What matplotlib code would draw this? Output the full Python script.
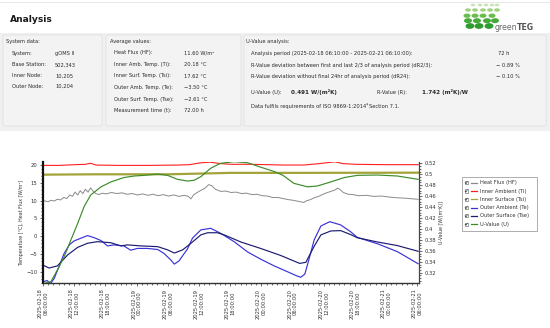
import numpy as np
import pandas as pd
import matplotlib
matplotlib.use("Agg")
import matplotlib.pyplot as plt
import matplotlib.dates as mdates
from matplotlib.patches import Rectangle, FancyBboxPatch, Ellipse
from matplotlib.lines import Line2D
from matplotlib.ticker import MultipleLocator, FuncFormatter

W, H = 550, 328
T0 = pd.Timestamp("2025-02-18 06:10:00")
plt.rcParams["font.family"] = "DejaVu Sans"

# ---- series (hours after 2025-02-18 06:10) --------------------------------
hf_h = [0.0, 0.8, 1.4, 2.0, 2.6, 3.2, 3.8, 4.4, 5.0, 5.5, 6.0, 6.5, 7.0, 7.5, 8.0,
        8.5, 9.0, 9.5, 10.0, 10.6, 11.2, 12.0, 13.0, 14.0, 15.0, 16.0, 17.0, 18.0,
        19.0, 20.0, 21.0, 22.0, 23.0, 24.0, 25.0, 26.0, 27.0, 27.8, 28.3, 28.8,
        29.5, 30.2, 31.0, 31.7, 32.3, 33.0, 34.0, 35.0, 36.0, 37.0, 38.0, 39.0,
        40.0, 41.0, 42.0, 43.0, 44.0, 45.0, 46.0, 47.0, 48.0, 49.0, 50.0, 50.6,
        51.3, 52.0, 53.0, 54.0, 55.0, 56.0, 56.5, 57.0, 57.6, 58.5, 59.5, 60.5,
        62.0, 63.5, 65.0, 66.5, 68.0, 69.5, 71.0, 72.0]
hf_v = [10.0, 9.7, 10.1, 9.9, 10.4, 10.2, 10.9, 10.6, 11.6, 11.2, 12.4, 11.6, 12.8,
        12.0, 13.2, 12.4, 13.6, 12.6, 12.0, 11.7, 12.1, 11.9, 12.3, 12.0, 12.2,
        11.8, 12.0, 11.6, 11.9, 11.5, 11.8, 11.4, 11.7, 11.3, 11.6, 11.2, 11.5,
        11.2, 10.5, 11.6, 12.3, 12.9, 13.5, 14.5, 14.2, 13.2, 12.6, 12.7, 12.3,
        12.4, 12.0, 12.1, 11.7, 11.8, 11.4, 11.3, 10.9, 10.9, 10.6, 10.3, 10.1,
        9.8, 9.5, 10.0, 10.3, 10.8, 11.3, 12.0, 12.5, 13.0, 13.5, 13.1, 12.3,
        11.8, 11.7, 11.4, 11.5, 11.2, 11.3, 11.0, 10.8, 10.7, 10.5, 10.4]

ti_h = [0.0, 3, 6, 8, 9, 10, 14, 20, 26, 28, 30, 32, 34, 36, 40, 46, 50, 53, 56,
        57.5, 60, 66, 72]
ti_v = [19.9, 19.9, 20.1, 20.2, 20.5, 20.0, 19.9, 19.9, 20.0, 20.1, 20.6, 20.8,
        20.4, 20.2, 20.2, 20.0, 20.0, 20.4, 20.9, 20.4, 20.2, 20.1, 20.1]

tsi_h = [0.0, 10, 24, 30, 36, 50, 72]
tsi_v = [17.3, 17.4, 17.4, 17.6, 17.8, 17.8, 17.85]

te_h = [0.0, 0.6, 1.0, 1.35, 2.0, 2.9, 3.9, 4.9, 5.8, 7.1, 8.4, 9.7, 11.0, 12.25,
        13.5, 15.4, 16.7, 18.0, 19.9, 21.9, 23.1, 24.4, 25.1, 26.0, 27.6, 28.6,
        30.2, 32.1, 34.0, 36.6, 39.2, 41.7, 44.3, 46.5, 48.5, 49.4, 50.2, 50.9,
        52.0, 53.3, 55.0, 57.1, 59.0, 60.3, 64.2, 68.0, 72.0]
te_v = [-12.7, -12.4, -12.9, -13.1, -11.8, -8.5, -4.8, -2.4, -1.3, -0.55, 0.2,
        -0.4, -1.2, -2.7, -2.4, -2.7, -3.9, -3.4, -3.4, -3.7, -4.8, -6.6, -7.8,
        -6.9, -3.6, -0.5, 1.8, 2.25, 0.85, -1.5, -4.4, -6.4, -8.3, -9.7, -11.0,
        -11.5, -10.6, -7.0, -1.0, 2.9, 4.1, 3.2, 1.3, -0.3, -2.1, -4.3, -7.7]

tse_h = [0.0, 1.0, 2.6, 4.6, 6.5, 8.4, 10.3, 12.9, 14.8, 16.1, 18.7, 21.9, 23.8,
         25.1, 26.7, 28.3, 30.2, 31.5, 33.4, 34.7, 37.9, 41.7, 45.6, 49.2, 50.4,
         52.0, 53.3, 55.2, 57.1, 59.0, 60.3, 64.2, 68.0, 72.0]
tse_v = [-8.2, -8.9, -8.3, -5.2, -3.1, -1.95, -1.5, -1.8, -2.7, -2.4, -2.7, -2.9,
         -3.8, -4.7, -3.8, -1.95, 0.4, 1.0, 1.0, 0.4, -1.6, -3.4, -5.4, -7.6,
         -7.3, -2.8, 0.4, 1.5, 1.6, 0.5, -0.4, -1.6, -2.6, -4.2]

u_h = [0.0, 1.35, 2.6, 3.9, 5.2, 6.5, 7.75, 9.0, 11.0, 12.9, 15.4, 17.4, 19.3,
       21.9, 23.8, 25.7, 27.6, 28.9, 30.2, 32.1, 34.0, 36.6, 39.2, 41.7, 44.3,
       46.0, 48.1, 50.7, 52.6, 55.2, 57.8, 60.3, 64.2, 68.0, 72.0]
u_v = [0.3006, 0.3036, 0.325, 0.349, 0.380, 0.410, 0.441, 0.462, 0.477, 0.486,
       0.494, 0.4968, 0.498, 0.5004, 0.498, 0.4907, 0.4876, 0.489, 0.4955, 0.511,
       0.520, 0.523, 0.521, 0.513, 0.505, 0.498, 0.4834, 0.477, 0.4785, 0.486,
       0.494, 0.498, 0.4986, 0.4968, 0.4907]

SERIES = [("Heat Flux (HF)", "#8a8a8a"), ("Inner Ambient (Ti)", "#ff1f1f"),
          ("Inner Surface (Tsi)", "#a3a33a"), ("Outer Ambient (Te)", "#3a32d8"),
          ("Outer Surface (Tse)", "#1c1c72"), ("U-Value (U)", "#3d8c2a")]
COL = dict(SERIES)

def ts(h):
    return T0 + pd.to_timedelta(np.asarray(h, float), unit="h")

def fx(x): return x / W
def fy(y): return 1 - y / H

fig = plt.figure(figsize=(5.5, 3.28), dpi=100)
fig.patch.set_facecolor("white")

# ---- header ---------------------------------------------------------------
fig.add_artist(Line2D([fx(0), fx(550)], [fy(2), fy(2)], color="#e4e4e4", lw=0.6))
fig.text(fx(10), fy(20), "Analysis", fontsize=6.6, fontweight="bold", color="#1a1a1a",
         va="center", ha="left")
# logo: perspective grid of green dots (decoration)
logo = [(5.0, [473, 480, 486, 492, 497], 4.6, 2.6, "#c6e4b2"),
        (10.0, [468, 475, 483, 490, 497], 5.8, 3.4, "#9ed27f"),
        (15.7, [467, 475, 483, 492], 7.0, 4.3, "#68bd4c"),
        (20.7, [468, 477, 487, 495], 8.0, 5.0, "#44aa38"),
        (26.0, [470, 479, 489], 8.8, 5.8, "#2f9c30")]
for y, xs, w, h, c in logo:
    for x in xs:
        fig.add_artist(Ellipse((fx(x), fy(y)), w / W, h / H, angle=-10,
                               transform=fig.transFigure, color=c, lw=0))
fig.text(fx(495), fy(27.5), "green", fontsize=5.6, color="#6a6a6a", va="center")
fig.text(fx(516.5), fy(27.5), "TEG", fontsize=5.6, color="#555555", va="center",
         fontweight="bold")

# ---- summary panel --------------------------------------------------------
fig.add_artist(Rectangle((fx(0), fy(131)), 1, (131 - 33) / H, transform=fig.transFigure,
                         facecolor="#f0f0f0", edgecolor="none"))
for x0, x1 in [(3, 102), (106, 241), (244, 546)]:
    fig.add_artist(FancyBboxPatch((fx(x0), fy(126)), (x1 - x0) / W, (126 - 35) / H,
                                  boxstyle="round,pad=0,rounding_size=0.004",
                                  transform=fig.transFigure, facecolor="#f3f3f3",
                                  edgecolor="#e0e0e0", lw=0.6))
FS = 3.7
TXT = "#2a2a2a"

def t(x, y, s, **kw):
    return fig.text(fx(x), fy(y), s, fontsize=kw.pop("fs", FS), color=TXT,
                    va="center", ha=kw.pop("ha", "left"), **kw)

t(6, 41, "System data:")
sys_lab = ["System:", "Base Station:", "Inner Node:", "Outer Node:"]
sys_val = ["gOMS II", "502,343", "10,205", "10,204"]
for i, (a, b) in enumerate(zip(sys_lab, sys_val)):
    y = 54 + i * 10.9
    t(12, y, a)
    t(55, y, b)

t(110, 41, "Average values:")
avg_lab = ["Heat Flux (HF):", "Inner Amb. Temp. (Ti):", "Inner Surf. Temp. (Tsi):",
           "Outer Amb. Temp. (Te):", "Outer Surf. Temp. (Tse):", "Measurement time (t):"]
avg_val = ["11.60 W/m\u00b2", "20.18 \u00b0C", "17.62 \u00b0C", "\u22123.50 \u00b0C",
           "\u22122.61 \u00b0C", "72.00 h"]
for i, (a, b) in enumerate(zip(avg_lab, avg_val)):
    y = 52.8 + i * 11.6
    t(114, y, a)
    t(184, y, b)

t(246, 41, "U-Value analysis:")
t(251, 53.5, "Analysis period (2025-02-18 06:10:00 - 2025-02-21 06:10:00):")
t(498, 53.5, "72 h")
t(251, 65.5, "R-Value deviation between first and last 2/3 of analysis period (dR2/3):")
t(496, 65.5, "\u2212 0.89 %")
t(251, 76.2, "R-Value deviation without final 24hr of analysis period (dR24):")
t(496, 76.2, "\u2212 0.10 %")
t(251, 92.3, "U-Value (U):")
t(291, 92.3, "0.491 W/(m\u00b2K)", fontweight="bold", fs=4.1)
t(377, 92.3, "R-Value (R):")
t(422, 92.3, "1.742 (m\u00b2K)/W", fontweight="bold", fs=4.1)
# ISO line: superscript asterisk chained after the first part
iso = t(251, 106.7, "Data fulfils requirements of ISO 9869-1:2014")
fig.canvas.draw()
bb = iso.get_window_extent().transformed(fig.transFigure.inverted())
fig.text(bb.x1 + 0.2 / W, fy(105.2), "*", fontsize=3.4, color=TXT, va="center")
fig.text(bb.x1 + 2.6 / W, fy(106.7), "Section 7.1.", fontsize=FS, color=TXT, va="center")

# ---- chart ----------------------------------------------------------------
ax = fig.add_axes([fx(43), fy(283), fx(419) - fx(43), fy(162) - fy(283)])
ax2 = ax.twinx()

ax.plot(ts(hf_h), hf_v, color=COL["Heat Flux (HF)"], lw=0.7)
ax.plot(ts(tsi_h), tsi_v, color=COL["Inner Surface (Tsi)"], lw=1.6)
ax.plot(ts(ti_h), ti_v, color=COL["Inner Ambient (Ti)"], lw=0.8)
ax.plot(ts(te_h), te_v, color=COL["Outer Ambient (Te)"], lw=0.85)
ax.plot(ts(tse_h), tse_v, color=COL["Outer Surface (Tse)"], lw=0.85)
ax2.plot(ts(u_h), u_v, color=COL["U-Value (U)"], lw=0.85)

ax.set_ylim(-13.1, 20.85)
ax2.set_ylim(0.3012, 0.5224)
ax.set_xlim(pd.Timestamp("2025-02-18 06:00"), pd.Timestamp("2025-02-21 06:20"))

ax.yaxis.set_major_locator(MultipleLocator(5))
ax.yaxis.set_minor_locator(MultipleLocator(1))
ax2.yaxis.set_major_locator(MultipleLocator(0.02))
ax2.yaxis.set_minor_locator(MultipleLocator(0.005))
ax2.yaxis.set_major_formatter(FuncFormatter(lambda v, p: f"{round(v, 3):g}"))
ax.xaxis.set_major_locator(mdates.HourLocator(byhour=[0, 6, 12, 18]))
ax.xaxis.set_minor_locator(mdates.HourLocator())
ax.xaxis.set_major_formatter(mdates.DateFormatter("%Y-%m-%d\n%H:%M:%S"))

for a in (ax, ax2):
    a.set_facecolor("none")
    a.spines["top"].set_visible(False)
    a.tick_params(which="both", direction="out", colors="#333333", labelsize=3.8,
                  width=0.5, pad=1.5)
    a.tick_params(which="major", length=2.5)
    a.tick_params(which="minor", length=1.3)
ax.spines["left"].set_linewidth(1.6)
ax.spines["left"].set_color("#111111")
ax.spines["bottom"].set_linewidth(1.0)
ax.spines["bottom"].set_color("#333333")
ax2.spines["right"].set_linewidth(0.8)
ax2.spines["right"].set_color("#444444")
ax2.spines["left"].set_visible(False)
ax2.spines["bottom"].set_visible(False)
for lab in ax.get_xticklabels():
    lab.set_rotation(90)
    lab.set_ha("center")
    lab.set_fontsize(3.7)
ax.set_ylabel("Temperature [\u00b0C], Heat Flux [W/m\u00b2]", fontsize=3.4,
              color="#333333", labelpad=2)
ax2.set_ylabel("U-Value [W/(m\u00b2K)]", fontsize=3.4, color="#333333", labelpad=2)

# ---- legend with check boxes ---------------------------------------------
fig.add_artist(Rectangle((fx(462), fy(230.5)), 75 / W, 53.5 / H, transform=fig.transFigure,
                         facecolor="white", edgecolor="#a0a0a0", lw=0.6))
for i, (name, c) in enumerate(SERIES):
    y = 182.7 + i * 8.3
    fig.add_artist(Rectangle((fx(464.5), fy(y + 1.6)), 3.2 / W, 3.2 / H,
                             transform=fig.transFigure, facecolor="white",
                             edgecolor="#555555", lw=0.4))
    fig.add_artist(Line2D([fx(465.1), fx(466.0), fx(467.3)],
                          [fy(y), fy(y + 1.0), fy(y - 1.0)], color="#222222", lw=0.45))
    fig.add_artist(Line2D([fx(471), fx(477)], [fy(y), fy(y)], color=c, lw=0.9))
    fig.text(fx(480.5), fy(y), name, fontsize=3.7, color="#333333", va="center")

fig.savefig("out.png", dpi=100)
